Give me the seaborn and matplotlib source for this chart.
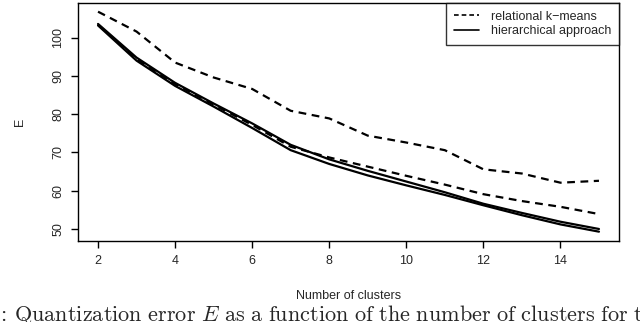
import numpy as np
import pandas as pd
import matplotlib
matplotlib.use("Agg")
import matplotlib.pyplot as plt
from matplotlib.lines import Line2D
import seaborn as sns

clusters = [2, 3, 4, 5, 6, 7, 8, 9, 10, 11, 12, 13, 14, 15]
kmeans_a = [106.8, 101.6, 93.5, 89.6, 86.6, 80.9, 78.9, 74.4, 72.6, 70.6, 65.6, 64.5, 62.1, 62.6]
kmeans_b = [103.4, 94.4, 87.9, 82.5, 77.2, 71.5, 68.7, 66.3, 63.9, 61.6, 59.1, 57.3, 55.8, 53.9]
hier_a = [103.6, 94.8, 88.2, 82.8, 77.6, 72.0, 68.2, 65.2, 62.4, 59.6, 56.6, 54.2, 51.9, 50.0]
hier_b = [103.2, 94.0, 87.4, 82.0, 76.4, 70.6, 67.0, 64.0, 61.4, 58.9, 56.2, 53.6, 51.2, 49.3]
legend_labels = ["relational k\u2212means", "hierarchical approach"]
x_ticks = [2, 4, 6, 8, 10, 12, 14]
y_ticks = [50, 60, 70, 80, 90, 100]

sns.set_style("white")
plt.rcParams['font.family'] = ['Liberation Sans', 'DejaVu Sans']
plt.rcParams['mathtext.fontset'] = 'cm'

fig = plt.figure(figsize=(6.4, 3.22), dpi=100)
ax = fig.add_axes([78/640, 1-241/322, (619-78)/640, (241-3)/322])

dash = (3.5, 2.5)
for ys, kind in [(kmeans_a, 'k'), (kmeans_b, 'k'), (hier_a, 'h'), (hier_b, 'h')]:
    df = pd.DataFrame({'k': clusters, 'E': ys})
    sns.lineplot(data=df, x='k', y='E', ax=ax, color='black', lw=1.6, legend=False)
    l = ax.lines[-1]
    if kind == 'k':
        l.set_dashes(dash)

ax.set_xlim(1.48, 15.52)
ax.set_ylim(46.86, 109.07)
ax.set_xticks(x_ticks)
ax.set_yticks(y_ticks)
ax.tick_params(axis='both', direction='out', length=5, width=1, color='black',
               labelsize=9, left=True, bottom=True)
ax.tick_params(axis='x', pad=5)
ax.tick_params(axis='y', pad=5)
for t in ax.get_yticklabels():
    t.set_rotation(90)
    t.set_va('center')
for s in ax.spines.values():
    s.set_color('black')
    s.set_linewidth(1)

ax.set_xlabel("Number of clusters", fontsize=9)
ax.set_ylabel("E", fontsize=9)
ax.xaxis.set_label_coords(0.5, (241-290)/238, transform=ax.transAxes)
ax.yaxis.set_label_coords((26-78)/541, 0.5)

handles = [Line2D([0], [0], color='black', lw=1.2, dashes=(2.8, 1.8)),
           Line2D([0], [0], color='black', lw=1.2)]
leg = ax.legend(handles, legend_labels, loc='upper right', fontsize=9,
                frameon=True, fancybox=False, borderaxespad=0, handlelength=2.0,
                borderpad=0.6, labelspacing=0.2, handletextpad=1.0)
leg.get_frame().set_edgecolor('black')
leg.get_frame().set_linewidth(1)

fig.text(-0.004, 0.004,
         r"$\mathrm{:\,Quantization\ error\ }E\mathrm{\ as\ a\ function\ of\ the\ number\ of\ clusters\ for\ the}$",
         fontsize=16, ha='left', va='baseline')

fig.savefig("out.png", dpi=100)
